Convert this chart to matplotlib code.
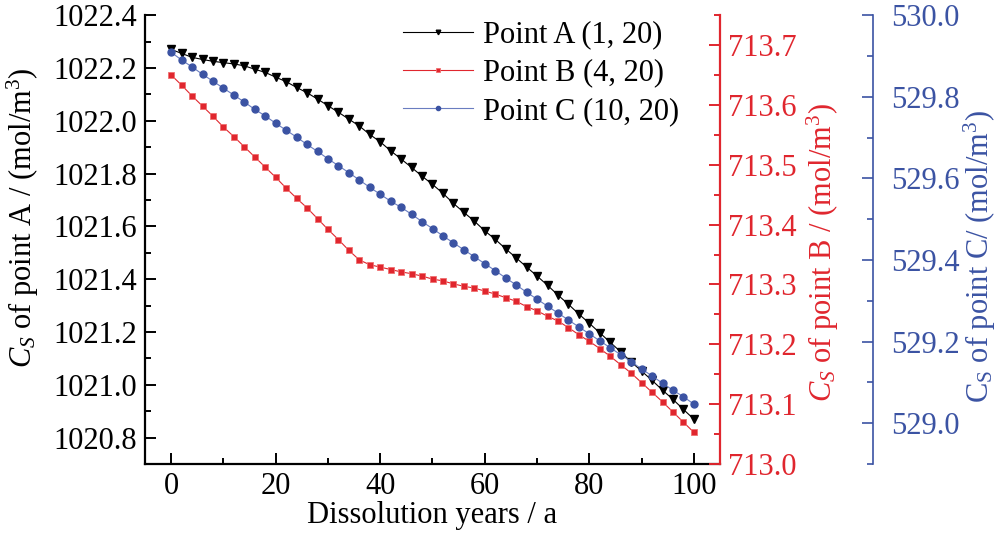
import matplotlib
matplotlib.use("Agg")
import matplotlib.pyplot as plt
from matplotlib.ticker import MultipleLocator, FormatStrFormatter

plt.rcParams['font.family'] = ['Liberation Serif', 'DejaVu Serif']
plt.rcParams['mathtext.fontset'] = 'custom'
plt.rcParams['mathtext.rm'] = 'Liberation Serif'
plt.rcParams['mathtext.it'] = 'Liberation Serif:italic'

years = [0, 2, 4, 6, 8, 10, 12, 14, 16, 18, 20, 22, 24, 26, 28, 30, 32, 34, 36, 38,
         40, 42, 44, 46, 48, 50, 52, 54, 56, 58, 60, 62, 64, 66, 68, 70, 72, 74, 76, 78,
         80, 82, 84, 86, 88, 90, 92, 94, 96, 98, 100]

point_a = [1022.270, 1022.255, 1022.240, 1022.232, 1022.225, 1022.220, 1022.215, 1022.208,
           1022.195, 1022.183, 1022.165, 1022.148, 1022.126, 1022.106, 1022.082, 1022.057,
           1022.032, 1022.006, 1021.980, 1021.948, 1021.920, 1021.886, 1021.855, 1021.823,
           1021.790, 1021.759, 1021.725, 1021.687, 1021.653, 1021.620, 1021.583, 1021.551,
           1021.515, 1021.481, 1021.446, 1021.412, 1021.377, 1021.340, 1021.305, 1021.268,
           1021.233, 1021.197, 1021.161, 1021.125, 1021.087, 1021.052, 1021.017, 1020.980,
           1020.945, 1020.907, 1020.870]

point_b = [713.650, 713.633, 713.615, 713.598, 713.581, 713.563, 713.547, 713.530, 713.513,
           713.496, 713.479, 713.461, 713.444, 713.428, 713.410, 713.392, 713.375, 713.357,
           713.341, 713.333, 713.329, 713.325, 713.321, 713.318, 713.314, 713.309, 713.306,
           713.301, 713.297, 713.294, 713.289, 713.284, 713.278, 713.272, 713.263, 713.256,
           713.247, 713.239, 713.228, 713.216, 713.205, 713.193, 713.180, 713.166, 713.152,
           713.136, 713.120, 713.104, 713.087, 713.070, 713.053]

point_c = [529.909, 529.890, 529.873, 529.855, 529.838, 529.821, 529.804, 529.787, 529.769,
           529.753, 529.735, 529.718, 529.701, 529.683, 529.666, 529.648, 529.631, 529.614,
           529.596, 529.578, 529.561, 529.544, 529.529, 529.512, 529.494, 529.477, 529.459,
           529.442, 529.425, 529.408, 529.391, 529.374, 529.356, 529.339, 529.321, 529.304,
           529.287, 529.270, 529.253, 529.236, 529.219, 529.202, 529.185, 529.168, 529.151,
           529.133, 529.116, 529.098, 529.081, 529.065, 529.047]

labels = ['Point A (1, 20)', 'Point B (4, 20)', 'Point C (10, 20)']

RED = '#E0262E'
BLUE = '#3B53A3'
FS = 22

fig = plt.figure(figsize=(10, 5.39), dpi=100)
ax = fig.add_axes([0.145, 0.139, 0.575, 0.833])
ax2 = ax.twinx()
ax3 = ax.twinx()

la, = ax.plot(years, point_a, color='black', lw=0.8, marker='v', ms=5.5, label=labels[0], zorder=3)
lb, = ax2.plot(years, point_b, color=RED, lw=0.8, marker='s', ms=4.5, mfc=RED, mec='#F07070',
               mew=0.6, label=labels[1])
lc, = ax3.plot(years, point_c, color='#6A7DC0', lw=0.8, marker='o', ms=5, mfc=BLUE, mec=BLUE,
               label=labels[2])

ax.set_xlim(-5, 105)
ax.set_ylim(1020.7, 1022.4)
ax2.set_ylim(713.0, 713.75)
ax3.set_ylim(528.9, 530.0)

ax.xaxis.set_major_locator(MultipleLocator(20))
ax.xaxis.set_minor_locator(MultipleLocator(10))
ax.yaxis.set_major_locator(MultipleLocator(0.2))
ax.yaxis.set_minor_locator(MultipleLocator(0.1))
ax.yaxis.set_major_formatter(FormatStrFormatter('%.1f'))
ax2.yaxis.set_major_locator(MultipleLocator(0.1))
ax2.yaxis.set_minor_locator(MultipleLocator(0.05))
ax2.yaxis.set_major_formatter(FormatStrFormatter('%.1f'))
ax3.yaxis.set_major_locator(MultipleLocator(0.2))
ax3.yaxis.set_minor_locator(MultipleLocator(0.1))
ax3.yaxis.set_major_formatter(FormatStrFormatter('%.1f'))

for a in (ax, ax2, ax3):
    for s in a.spines.values():
        s.set_visible(False)
ax.spines['left'].set_visible(True)
ax.spines['bottom'].set_visible(True)
ax2.spines['right'].set_visible(True)
ax3.spines['right'].set_visible(True)
ax3.spines['right'].set_position(('axes', 1.266))
for s in ('left', 'bottom'):
    ax.spines[s].set_linewidth(1.6)
ax2.spines['right'].set_linewidth(1.6)
ax2.spines['right'].set_color(RED)
ax3.spines['right'].set_linewidth(1.2)
ax3.spines['right'].set_color(BLUE)

ax.tick_params(which='both', direction='in', top=False, right=False, labelsize=FS, width=1.4)
ax.tick_params(which='major', length=8)
ax.tick_params(which='minor', length=4)
ax.tick_params(axis='y', pad=6)
ax.tick_params(axis='x', pad=6)
ax2.tick_params(which='both', direction='in', colors=RED, labelsize=FS, width=1.4, pad=6)
ax2.tick_params(which='major', length=8)
ax2.tick_params(which='minor', length=4)
ax3.tick_params(which='both', direction='in', colors=BLUE, labelsize=FS, width=1.2, pad=13)
ax3.tick_params(which='major', length=8)
ax3.tick_params(which='minor', length=4)

ax.set_xlabel('Dissolution years / a', fontsize=FS, labelpad=0)
ax.set_ylabel(r'$C_S$ of point A / (mol/m$^3$)', fontsize=FS)
ax2.set_ylabel(r'$C_S$ of point B / (mol/m$^3$)', fontsize=FS, color=RED)
ax3.set_ylabel(r'C$_\mathrm{S}$ of point C/ (mol/m$^3$)', fontsize=FS, color=BLUE)
for a, xc, yc in ((ax, -0.212, 0.55), (ax2, 1.179, 0.472), (ax3, 1.452, 0.463)):
    a.yaxis.set_label_coords(xc, yc)
    a.yaxis.label.set_verticalalignment('center')
    a.yaxis.label.set_horizontalalignment('center')

leg = ax.legend(handles=[la, lb, lc], loc='upper left', bbox_to_anchor=(0.449, 0.988),
                frameon=False, fontsize=FS, handlelength=2.3, handletextpad=0.3,
                labelspacing=0.3, borderpad=0, borderaxespad=0, markerscale=0.6)

fig.savefig('out.png', dpi=100)
